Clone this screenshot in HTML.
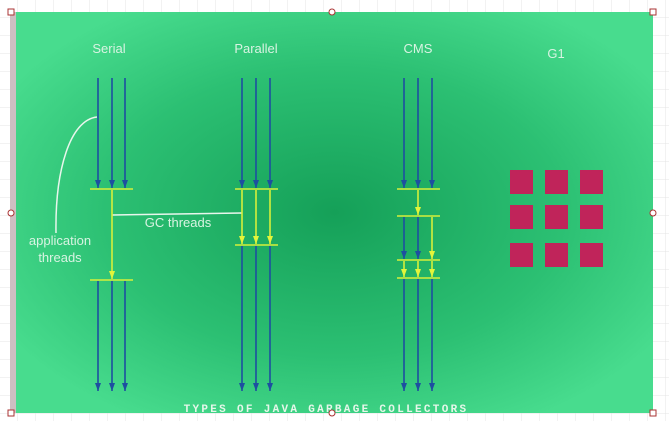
<!DOCTYPE html>
<html><head><meta charset="utf-8"><style>
html,body{margin:0;padding:0;width:669px;height:421px;overflow:hidden;background:#fff;}
svg{display:block}
text{font-family:"Liberation Sans",sans-serif;}
</style></head><body>
<svg width="669" height="421">
<defs>
<pattern id="grid" width="18" height="18" patternUnits="userSpaceOnUse"><path d="M18 0V18H0" fill="none" stroke="#e4e4e4" stroke-width="1"/></pattern>
<radialGradient id="bg" cx="0.5" cy="0.5" r="0.6">
<stop offset="0" stop-color="#15a058"/><stop offset="0.6" stop-color="#2cc073"/><stop offset="1" stop-color="#48dc8e"/></radialGradient>
<marker id="ab" markerWidth="8" markerHeight="6" refX="8" refY="3" orient="auto" markerUnits="userSpaceOnUse"><path d="M0 0L8 3L0 6Z" fill="#1d4fa0"/></marker>
<marker id="ay" markerWidth="8" markerHeight="6" refX="8" refY="3" orient="auto" markerUnits="userSpaceOnUse"><path d="M0 0L8 3L0 6Z" fill="#e2f53a"/></marker>
</defs>
<rect width="669" height="421" fill="url(#grid)"/>
<rect x="10" y="12" width="6" height="401" fill="#cdbfc2"/>
<rect x="16" y="12" width="637" height="401" fill="url(#bg)"/>
<g fill="#d8f3e2" font-size="13" text-anchor="middle">
<text x="109" y="53">Serial</text>
<text x="256" y="53">Parallel</text>
<text x="418" y="53">CMS</text>
<text x="556" y="58">G1</text>
<text x="178" y="227">GC threads</text>
<text x="60" y="245">application</text>
<text x="60" y="262">threads</text>
</g>
<path d="M97 117 C70 120 55 170 56 233" stroke="#e8f6ec" stroke-width="1.5" fill="none"/>
<path d="M112 215 L242 213" stroke="#e8f6ec" stroke-width="1.5" fill="none"/>
<g stroke="#1d4fa0" stroke-width="1.6" marker-end="url(#ab)">
<line x1="98" y1="78" x2="98" y2="188"/><line x1="112" y1="78" x2="112" y2="188"/><line x1="125" y1="78" x2="125" y2="188"/>
<line x1="98" y1="281" x2="98" y2="391"/><line x1="112" y1="281" x2="112" y2="391"/><line x1="125" y1="281" x2="125" y2="391"/>
<line x1="242" y1="78" x2="242" y2="188"/><line x1="256" y1="78" x2="256" y2="188"/><line x1="270" y1="78" x2="270" y2="188"/>
<line x1="242" y1="246" x2="242" y2="391"/><line x1="256" y1="246" x2="256" y2="391"/><line x1="270" y1="246" x2="270" y2="391"/>
<line x1="404" y1="78" x2="404" y2="188"/><line x1="418" y1="78" x2="418" y2="188"/><line x1="432" y1="78" x2="432" y2="188"/>
<line x1="404" y1="217" x2="404" y2="259"/><line x1="418" y1="217" x2="418" y2="259"/>
<line x1="404" y1="279" x2="404" y2="391"/><line x1="418" y1="279" x2="418" y2="391"/><line x1="432" y1="279" x2="432" y2="391"/>
</g>
<g stroke="#d6f03a" stroke-width="1.6">
<line x1="90" y1="189" x2="133" y2="189"/><line x1="90" y1="280" x2="133" y2="280"/>
<line x1="235" y1="189" x2="278" y2="189"/><line x1="235" y1="245" x2="278" y2="245"/>
<line x1="397" y1="189" x2="440" y2="189"/><line x1="397" y1="216" x2="440" y2="216"/>
<line x1="397" y1="260" x2="440" y2="260"/><line x1="397" y1="278" x2="440" y2="278"/>
</g>
<g stroke="#d6f03a" stroke-width="1.6" marker-end="url(#ay)">
<line x1="112" y1="190" x2="112" y2="279"/>
<line x1="242" y1="190" x2="242" y2="244"/><line x1="256" y1="190" x2="256" y2="244"/><line x1="270" y1="190" x2="270" y2="244"/>
<line x1="418" y1="190" x2="418" y2="215"/>
<line x1="432" y1="217" x2="432" y2="259"/>
<line x1="404" y1="261" x2="404" y2="277"/><line x1="418" y1="261" x2="418" y2="277"/><line x1="432" y1="261" x2="432" y2="277"/>
</g>
<g fill="#c0245a">
<rect x="510" y="170" width="23" height="24"/><rect x="545" y="170" width="23" height="24"/><rect x="580" y="170" width="23" height="24"/>
<rect x="510" y="205" width="23" height="24"/><rect x="545" y="205" width="23" height="24"/><rect x="580" y="205" width="23" height="24"/>
<rect x="510" y="243" width="23" height="24"/><rect x="545" y="243" width="23" height="24"/><rect x="580" y="243" width="23" height="24"/>
</g>
<text x="326" y="412" text-anchor="middle" fill="#e6f7ea" font-size="11" font-weight="bold" letter-spacing="2.3" style="font-family:'Liberation Mono',monospace">TYPES OF JAVA GARBAGE COLLECTORS</text>
<g fill="#fff" stroke="#a33" stroke-width="1">
<rect x="8" y="9" width="6" height="6"/><rect x="650" y="9" width="6" height="6"/><rect x="8" y="410" width="6" height="6"/><rect x="650" y="410" width="6" height="6"/>
<circle cx="332" cy="12" r="3"/><circle cx="11" cy="213" r="3"/><circle cx="653" cy="213" r="3"/><circle cx="332" cy="413" r="3"/>
</g>
</svg>
</body></html>
